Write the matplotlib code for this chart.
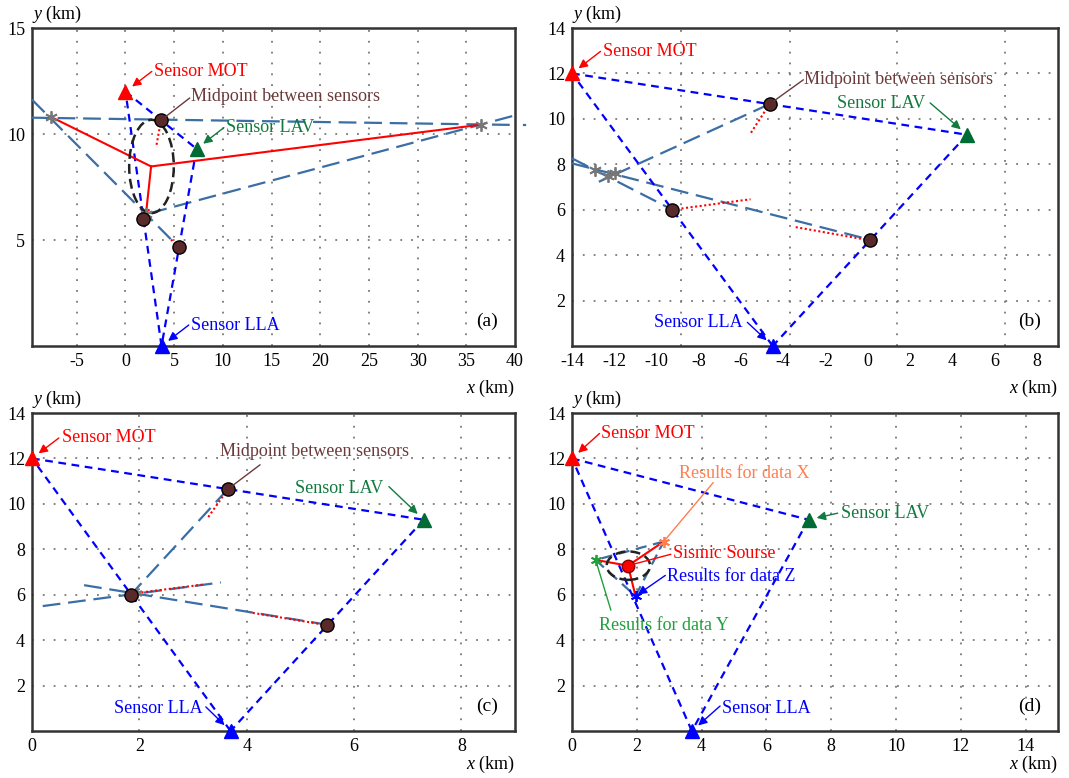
import numpy as np
import matplotlib
matplotlib.use("Agg")
import matplotlib.pyplot as plt
from matplotlib.patches import Ellipse

plt.rcParams['font.family'] = ['Liberation Serif', 'DejaVu Serif']
plt.rcParams['mathtext.fontset'] = 'custom'
plt.rcParams['mathtext.rm'] = 'Liberation Serif'
plt.rcParams['mathtext.it'] = 'Liberation Serif:italic'
plt.rcParams['axes.unicode_minus'] = False

# ---- data (km) ----
# sensors: MOT, LAV, LLA
sens_x_acd = [0.0, 7.3, 3.7]
sens_y_acd = [12.0, 9.3, 0.0]
sens_x_b = [-14.0, 4.7, -4.5]
sens_y_b = [12.0, 9.3, 0.0]

# panel (a)
a_star_x = [-7.62, 36.5, 2.1]
a_star_y = [10.8, 10.44, 6.21]
a_est = [2.63, 8.47]
a_ell = [2.67, 8.47, 4.58, 4.4]          # cx, cy, width, height
a_dash = [[-9.6, 11.62, 5.24, 4.77],     # x0, y0, x1, y1
          [-9.6, 10.77, 41.0, 10.42],
          [2.46, 6.26, 40.18, 10.9]]
a_dot = [[3.65, 10.65, 3.16, 9.41],
         [1.85, 6.0, 2.45, 6.45],
         [5.5, 4.65, 4.5, 5.1]]

# panel (b)
b_star_x = [-12.89, -12.29, -11.97]
b_star_y = [7.74, 7.48, 7.6]
b_dash = [[-4.65, 10.65, -12.73, 7.23],
          [-14.0, 8.26, -9.25, 6.0],
          [-14.0, 8.04, 0.1, 4.68]]
b_dot = [[-4.65, 10.65, -5.55, 9.36],
         [-9.25, 6.0, -5.55, 6.46],
         [0.1, 4.65, -3.45, 5.24]]
b_xgrid = [-8.85, -3.69, 1.39, 6.5]

# panel (c)
c_star_x = [1.95]
c_star_y = [6.08]
c_dash = [[0.2, 5.5, 3.52, 6.54],
          [0.97, 6.42, 5.5, 4.68],
          [3.65, 10.65, 1.9, 6.15]]
c_dot = [[3.65, 10.65, 3.27, 9.37],
         [1.87, 6.05, 3.2, 6.45],
         [5.5, 4.66, 4.06, 5.22]]

# panel (d)
d_src = [1.73, 7.28]
d_res_x = [2.83, 0.73, 1.96]   # data X, Y, Z
d_res_y = [8.34, 7.53, 5.94]
d_ell = [1.74, 7.28, 1.34, 1.25]

RED = '#FF0000'
GREEN = '#006B35'
GREENTXT = '#137A3F'
BLUE = '#0000FF'
BROWN = '#6B3A3A'
DOTBROWN = '#5A2A2A'
STEEL = '#3A6EA5'
GRAY = '#777777'
ORANGE = '#FF7F50'
YGREEN = '#20A03A'
FS = 13

fig = plt.figure(figsize=(10.69, 7.78), dpi=100)

def make_ax(rect, xlim, ylim, xticks, yticks, xgrid, ygrid, tag, xlab_y):
    ax = fig.add_axes(rect)
    ax.set_xlim(xlim)
    ax.set_ylim(ylim)
    ax.set_xticks(xticks)
    ax.set_yticks(yticks)
    ax.tick_params(length=0, labelsize=FS, pad=5)
    for x in xgrid:
        ax.axvline(x, color=GRAY, lw=1.3, ls=(0, (1, 5)), zorder=0)
    for y in ygrid:
        ax.axhline(y, color=GRAY, lw=1.3, ls=(0, (1, 5)), zorder=0)
    for s in ax.spines.values():
        s.set_linewidth(1.8)
        s.set_color('#333333')
        s.set_zorder(1)
    ax.text(0.0, 1.008, '$y$ (km)', transform=ax.transAxes, ha='left', va='bottom', fontsize=FS)
    ax.text(1.0, xlab_y, '$x$ (km)', transform=ax.transAxes, ha='right', va='top', fontsize=FS)
    ax.text(0.965, 0.05, tag, transform=ax.transAxes, ha='right', va='bottom', fontsize=FS + 1)
    return ax

def triangle(ax, sx, sy):
    for i in range(3):
        j = (i + 1) % 3
        ax.plot([sx[i], sx[j]], [sy[i], sy[j]], color=BLUE, lw=1.6, ls=(0, (3.5, 2.5)), zorder=3)
    for x, y, c in zip(sx, sy, [RED, GREEN, BLUE]):
        ax.plot(x, y, '^', color=c, ms=10, clip_on=False, zorder=6)

def midpoints(ax, sx, sy):
    mx = [(sx[0] + sx[1]) / 2, (sx[0] + sx[2]) / 2, (sx[1] + sx[2]) / 2]
    my = [(sy[0] + sy[1]) / 2, (sy[0] + sy[2]) / 2, (sy[1] + sy[2]) / 2]
    ax.plot(mx, my, 'o', color=DOTBROWN, mec='black', mew=1.0, ms=9.5, ls='none', zorder=6)

def segs(ax, segments, **kw):
    for x0, y0, x1, y1 in segments:
        ax.plot([x0, x1], [y0, y1], **kw)

def stars(ax, xs, ys, color=GRAY, ms=9):
    ax.plot(xs, ys, ls='none', marker=(6, 2, 0), color=color, mec=color, mew=1.3, ms=ms, zorder=5)

def label(ax, text, color, txy, start, target, head=True, shrink=6, ha='left'):
    ax.text(txy[0], txy[1], text, color=color, fontsize=FS, ha=ha, va='center', zorder=7)
    style = '-|>' if head else '-'
    ax.annotate('', xy=target, xytext=start,
                arrowprops=dict(arrowstyle=style, color=color, lw=1.0, mutation_scale=13,
                                shrinkA=0, shrinkB=shrink), zorder=7)

dash_long = dict(color=STEEL, lw=1.6, ls=(0, (8, 3.5)), zorder=2)
red_dot = dict(color=RED, lw=1.5, ls=(0, (1, 1.2)), zorder=4)

# ---------------- (a) ----------------
ax = make_ax([32 / 1069, 1 - 346 / 778, 483 / 1069, 318 / 778], (-9.6, 40), (0, 15),
             range(-5, 41, 5), [5, 10, 15], range(-5, 40, 5), [5, 10], '(a)', -0.1)
segs(ax, a_dash[:2], **dash_long)
ax.plot([a_dash[2][0], a_dash[2][2]], [a_dash[2][1], a_dash[2][3]], clip_on=False, **dash_long)
ax.plot([a_dash[1][2] - 0.1, a_dash[1][2]], [a_dash[1][3], a_dash[1][3]], color=STEEL, lw=1.6, clip_on=False)
for sx, sy in zip(a_star_x, a_star_y):
    ax.plot([a_est[0], sx], [a_est[1], sy], color=RED, lw=1.5, zorder=4)
ax.add_patch(Ellipse((a_ell[0], a_ell[1]), a_ell[2], a_ell[3], fill=False, ec='#222222',
                     lw=1.8, ls=(0, (4, 2)), zorder=4))
segs(ax, a_dot, **red_dot)
stars(ax, a_star_x, a_star_y)
triangle(ax, sens_x_acd, sens_y_acd)
midpoints(ax, sens_x_acd, sens_y_acd)
label(ax, 'Sensor MOT', RED, (2.9, 12.95), (2.7, 12.95), (0.0, 12.0))
label(ax, 'Midpoint between sensors', BROWN, (6.75, 11.77), (6.6, 11.7), (3.65, 10.65), head=False, shrink=4)
label(ax, 'Sensor LAV', GREENTXT, (10.3, 10.31), (10.1, 10.3), (7.3, 9.3))
label(ax, 'Sensor LLA', BLUE, (6.7, 0.99), (6.5, 0.99), (3.7, 0.0))

# ---------------- (b) ----------------
ax = make_ax([572 / 1069, 1 - 346 / 778, 486 / 1069, 318 / 778], (-14, 9), (0, 14),
             range(-14, 9, 2), range(2, 15, 2), b_xgrid, range(2, 14, 2), '(b)', -0.1)
segs(ax, b_dash, **dash_long)
segs(ax, b_dot, **red_dot)
stars(ax, b_star_x, b_star_y)
triangle(ax, sens_x_b, sens_y_b)
midpoints(ax, sens_x_b, sens_y_b)
label(ax, 'Sensor MOT', RED, (-12.55, 12.97), (-12.65, 12.97), (-14.0, 12.0))
label(ax, 'Midpoint between sensors', BROWN, (-3.0, 11.72), (-3.05, 11.72), (-4.65, 10.65), head=False, shrink=4)
label(ax, 'Sensor LAV', GREENTXT, (-1.45, 10.69), (2.95, 10.7), (4.7, 9.3))
label(ax, 'Sensor LLA', BLUE, (-10.1, 1.04), (-5.7, 1.04), (-4.5, 0.0))

# ---------------- (c) ----------------
ax = make_ax([32 / 1069, 1 - 731 / 778, 483 / 1069, 318 / 778], (0, 9), (0, 14),
             range(0, 9, 2), range(2, 15, 2), range(2, 9, 2), range(2, 14, 2), '(c)', -0.072)
segs(ax, c_dash, **dash_long)
segs(ax, c_dot, **red_dot)
stars(ax, c_star_x, c_star_y, ms=7)
triangle(ax, sens_x_acd, sens_y_acd)
midpoints(ax, sens_x_acd, sens_y_acd)
label(ax, 'Sensor MOT', RED, (0.55, 12.9), (0.5, 12.9), (0.0, 12.0))
label(ax, 'Midpoint between sensors', BROWN, (3.5, 12.3), (4.25, 11.72), (3.65, 10.65), head=False, shrink=4)
label(ax, 'Sensor LAV', GREENTXT, (4.9, 10.69), (6.65, 10.76), (7.3, 9.3))
label(ax, 'Sensor LLA', BLUE, (1.52, 0.99), (3.24, 1.06), (3.7, 0.0))

# ---------------- (d) ----------------
ax = make_ax([572 / 1069, 1 - 731 / 778, 486 / 1069, 318 / 778], (0, 15), (0, 14),
             range(0, 15, 2), range(2, 15, 2), range(2, 15, 2), range(2, 14, 2), '(d)', -0.072)
triangle(ax, sens_x_acd, sens_y_acd)
for i in range(3):
    j = (i + 1) % 3
    ax.plot([d_res_x[i], d_res_x[j]], [d_res_y[i], d_res_y[j]], color=STEEL, lw=1.6,
            ls=(0, (5, 3)), zorder=2)
for x, y in zip(d_res_x, d_res_y):
    ax.plot([d_src[0], x], [d_src[1], y], color=RED, lw=1.5, zorder=4)
ax.add_patch(Ellipse((d_ell[0], d_ell[1]), d_ell[2], d_ell[3], fill=False, ec='#222222',
                     lw=1.8, ls=(0, (4, 2)), zorder=4))
for x, y, c in zip(d_res_x, d_res_y, [ORANGE, YGREEN, BLUE]):
    stars(ax, [x], [y], color=c, ms=8)
ax.plot(d_src[0], d_src[1], 'o', color=RED, mec='#8B0000', mew=1.0, ms=9, zorder=6)
label(ax, 'Sensor MOT', RED, (0.9, 13.1), (0.85, 13.1), (0.0, 12.0))
label(ax, 'Sensor LAV', GREENTXT, (8.3, 9.56), (8.2, 9.59), (7.3, 9.3))
label(ax, 'Sensor LLA', BLUE, (4.63, 0.99), (4.57, 1.1), (3.7, 0.0))
label(ax, 'Results for data X', ORANGE, (3.29, 11.35), (4.36, 10.94), (d_res_x[0], d_res_y[0]), head=False, shrink=2)
label(ax, 'Sismic Sourse', RED, (3.12, 7.82), (3.05, 7.78), tuple(d_src), head=False, shrink=3)
label(ax, 'Results for data Z', BLUE, (2.92, 6.79), (2.88, 6.85), (d_res_x[2], d_res_y[2]), shrink=2)
label(ax, 'Results for data Y', YGREEN, (0.83, 4.66), (1.2, 5.32), (d_res_x[1], d_res_y[1]), head=False, shrink=2)

fig.savefig('out.png', dpi=100)
